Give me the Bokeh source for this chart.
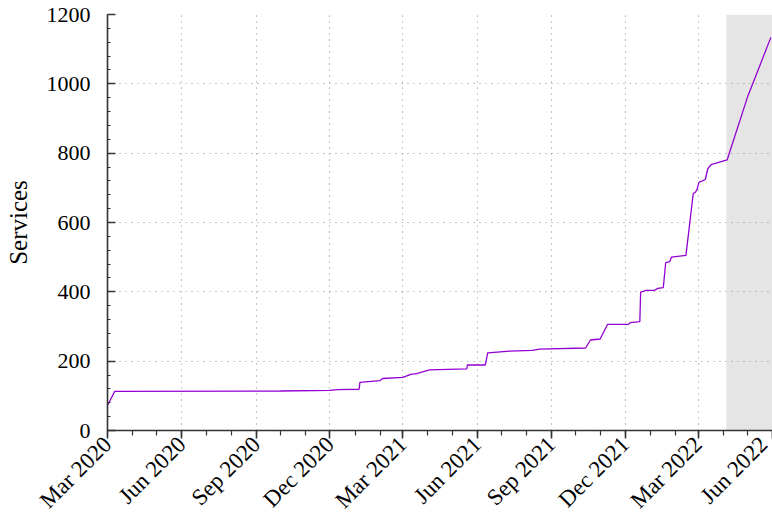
import pandas as pd
from math import pi
from bokeh.plotting import figure
from bokeh.models import (BoxAnnotation, FixedTicker, DatetimeTickFormatter,
                          SingleIntervalTicker, Range1d)
from bokeh.embed import file_html
from bokeh.resources import INLINE

# ---- data ----
dates = ["2020-03-01", "2020-03-10", "2020-10-01", "2020-12-01", "2020-12-10",
         "2021-01-06", "2021-01-07", "2021-02-01", "2021-02-04", "2021-03-01",
         "2021-03-11", "2021-03-18", "2021-04-03", "2021-05-19", "2021-05-20",
         "2021-06-11", "2021-06-14", "2021-07-11", "2021-08-08", "2021-08-17",
         "2021-10-13", "2021-10-19", "2021-10-31", "2021-11-09", "2021-12-05",
         "2021-12-07", "2021-12-19", "2021-12-20", "2021-12-27", "2022-01-06",
         "2022-01-10", "2022-01-17", "2022-01-20", "2022-01-25", "2022-01-27",
         "2022-02-14", "2022-02-23", "2022-02-26", "2022-02-28", "2022-03-02",
         "2022-03-10", "2022-03-13", "2022-03-17", "2022-04-06", "2022-05-01",
         "2022-05-30"]
services = [72, 113, 114, 116, 118,
            119, 139, 144, 150, 153,
            162, 164, 175, 178, 189,
            189, 224, 229, 231, 235,
            238, 261, 264, 306, 306,
            311, 314, 399, 404, 404,
            410, 412, 484, 487, 500,
            505, 683, 688, 697, 716,
            724, 755, 767, 781, 961,
            1134]
shade_start = "2022-04-05"
x_start, x_end = "2020-03-01", "2022-06-01"
y_start, y_end = 0, 1200
y_label = "Services"

# ---- figure ----
FONT = "Liberation Serif"
x = pd.to_datetime(dates)

p = figure(width=772, height=525, x_axis_type="datetime",
           x_range=Range1d(pd.Timestamp(x_start), pd.Timestamp(x_end)),
           y_range=Range1d(y_start, y_end),
           output_backend="svg", toolbar_location=None,
           min_border_left=107, min_border_right=0,
           min_border_top=14, min_border_bottom=95)
p.outline_line_color = None
p.background_fill_color = "white"
p.border_fill_color = "white"

shade = BoxAnnotation(left=pd.Timestamp(shade_start), fill_color="#e5e5e5",
                      fill_alpha=1.0, line_color=None, level="image")
p.add_layout(shade)

p.line(x=x, y=services, line_color="#9400d3", line_width=1.3)

# x axis ticks
major = [t.value // 10**6 for t in pd.date_range(x_start, x_end, freq="3MS")]
minor = [t.value // 10**6 for t in pd.date_range(x_start, x_end, freq="MS")]
xax = p.xaxis[0]
xax.ticker = FixedTicker(ticks=major, minor_ticks=minor)
xax.formatter = DatetimeTickFormatter(months="%b %Y", days="%b %Y", years="%b %Y")
xax.major_label_orientation = pi / 4
xax.major_tick_in = 0
xax.major_tick_out = 8
xax.minor_tick_in = 0
xax.minor_tick_out = 5
xax.major_label_standoff = 2
xax.major_label_text_font_size = "23px"

yax = p.yaxis[0]
yax.ticker = SingleIntervalTicker(interval=200, num_minor_ticks=5)
yax.major_tick_in = 8
yax.major_tick_out = 0
yax.minor_tick_in = 3
yax.minor_tick_out = 0
yax.major_label_standoff = 17
yax.major_label_text_font_size = "22px"
yax.axis_label = y_label
yax.axis_label_standoff = 12
yax.axis_label_text_font = FONT
yax.axis_label_text_font_size = "25px"
yax.axis_label_text_font_style = "normal"
yax.axis_label_text_color = "black"

for ax in (xax, yax):
    ax.axis_line_color = "#333333"
    ax.axis_line_width = 1.6
    ax.major_tick_line_color = "#333333"
    ax.major_tick_line_width = 1.6
    ax.minor_tick_line_color = "#333333"
    ax.minor_tick_line_width = 1.2
    ax.major_label_text_font = FONT
    ax.major_label_text_color = "black"

for g in p.grid:
    g.grid_line_color = "#8c8c8c"
    g.grid_line_dash = "1 5"
    g.grid_line_width = 1

open("out.html", "w").write(file_html(p, INLINE))
